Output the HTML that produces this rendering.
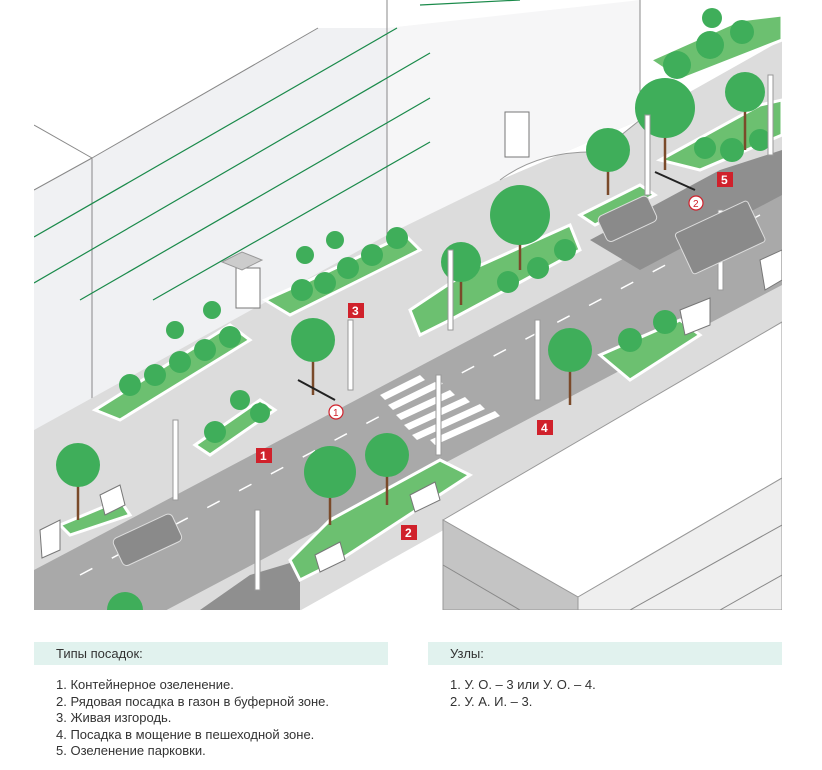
<!DOCTYPE html>
<html><head><meta charset="utf-8"><style>
body{margin:0;background:#fff;width:822px;height:770px;overflow:hidden;font-family:"Liberation Sans",sans-serif}
.bar{position:absolute;top:642px;height:23px;background:#e1f2ee;font-size:13px;color:#333;line-height:23px;padding-left:22px;box-sizing:border-box}
.list{position:absolute;top:677px;font-size:13px;color:#333;line-height:16.5px}
</style></head><body>
<svg width="822" height="770" style="position:absolute;left:0;top:0">
<defs><clipPath id="c"><rect x="34" y="0" width="748" height="610"/></clipPath></defs>
<g clip-path="url(#c)">
<rect x="34" y="0" width="748" height="610" fill="#fff"/>
<polygon points="34,190 92,158 318,28 387,28 387,235 92,400 34,430" fill="#f0f1f3"/>
<polygon points="387,28 640,0 640,120 387,235" fill="#f6f6f7"/>
<g stroke="#888" stroke-width="1" fill="none">
<line x1="34" y1="190" x2="92" y2="158"/><line x1="92" y1="158" x2="318" y2="28"/>
<line x1="34" y1="125" x2="92" y2="158"/><line x1="92" y1="158" x2="92" y2="400"/>
<line x1="387" y1="0" x2="387" y2="235"/><line x1="640" y1="0" x2="640" y2="120"/>
</g>
<g stroke="#1a8a4a" stroke-width="1.2" fill="none">
<line x1="34" y1="237" x2="397" y2="28"/><line x1="34" y1="283" x2="430" y2="53"/>
<line x1="80" y1="300" x2="430" y2="98"/><line x1="153" y1="300" x2="430" y2="142"/>
<line x1="420" y1="5" x2="520" y2="0"/>
</g>
<polygon points="34,430 387,235 500,180 640,120 782,40 782,190 34,575" fill="#dcdcdc"/>
<path d="M500,180 Q540,150 600,152 L640,120" fill="#fff" stroke="#999"/>
<rect x="236" y="268" width="24" height="40" fill="#fff" stroke="#777"/>
<polygon points="222,262 242,252 262,260 242,270" fill="#ccc" stroke="#999"/>
<rect x="505" y="112" width="24" height="45" fill="#fff" stroke="#777"/>
<polygon points="34,640 782,260 782,340 34,760" fill="#dcdcdc"/>
<polygon points="34,570 782,175 782,285 34,680" fill="#a9a9a9"/>
<polygon points="590,240 720,170 782,150 782,195 640,270" fill="#8f8f8f"/>
<polygon points="200,610 250,575 300,560 300,610" fill="#8f8f8f"/>
<g fill="#fff">
<polygon points="380,395 420,375 425,380 385,400"/><polygon points="388,405 435,382 440,387 393,410"/>
<polygon points="396,415 450,390 455,395 401,420"/><polygon points="404,425 465,397 470,402 409,430"/>
<polygon points="412,435 480,404 485,409 417,440"/><polygon points="430,440 495,411 500,416 435,445"/>
</g>
<line x1="80" y1="575" x2="760" y2="215" stroke="#fff" stroke-width="1.5" stroke-dasharray="14 22"/>
<polygon points="443,520 782,322 782,478 578,597" fill="#fff" stroke="#999"/>
<polygon points="443,520 578,597 578,610 443,610" fill="#c4c4c4" stroke="#999"/>
<polygon points="578,597 782,478 782,610 578,610" fill="#efefef" stroke="#999"/>
<g stroke="#888"><line x1="630" y1="610" x2="782" y2="525"/><line x1="720" y1="610" x2="782" y2="575"/><line x1="443" y1="565" x2="520" y2="610"/></g>
<g fill="#6cc070" stroke="#fff" stroke-width="3">
<polygon points="265,300 310,280 405,235 420,250 290,315"/>
<polygon points="95,410 230,325 250,340 120,420"/>
<polygon points="410,310 470,270 570,225 580,250 450,320 420,335"/>
<polygon points="580,215 640,185 655,195 595,225"/>
<polygon points="660,160 760,105 782,100 782,135 700,170"/>
<polygon points="290,560 330,520 440,460 470,475 340,560 300,580"/>
<polygon points="60,525 120,500 130,515 70,535"/>
<polygon points="195,445 260,400 275,410 210,455"/>
<polygon points="600,355 680,320 700,335 630,380"/>
<polygon points="650,60 740,20 782,15 782,40 680,80"/>
</g>
<g stroke="#7a4a2a" stroke-width="2.5">
<line x1="313" y1="350" x2="313" y2="395"/><line x1="387" y1="465" x2="387" y2="505"/>
<line x1="330" y1="480" x2="330" y2="525"/><line x1="461" y1="270" x2="461" y2="305"/>
<line x1="520" y1="225" x2="520" y2="270"/><line x1="608" y1="160" x2="608" y2="195"/>
<line x1="665" y1="120" x2="665" y2="170"/><line x1="570" y1="360" x2="570" y2="405"/>
<line x1="78" y1="475" x2="78" y2="520"/><line x1="745" y1="100" x2="745" y2="150"/>
</g>
<g fill="#3fae5a">
<circle cx="313" cy="340" r="22"/><circle cx="78" cy="465" r="22"/><circle cx="330" cy="472" r="26"/>
<circle cx="387" cy="455" r="22"/><circle cx="461" cy="262" r="20"/><circle cx="520" cy="215" r="30"/>
<circle cx="608" cy="150" r="22"/><circle cx="665" cy="108" r="30"/><circle cx="745" cy="92" r="20"/>
<circle cx="570" cy="350" r="22"/><circle cx="125" cy="610" r="18"/>
<circle cx="302" cy="290" r="11"/><circle cx="325" cy="283" r="11"/><circle cx="348" cy="268" r="11"/>
<circle cx="372" cy="255" r="11"/><circle cx="397" cy="238" r="11"/><circle cx="305" cy="255" r="9"/><circle cx="335" cy="240" r="9"/>
<circle cx="130" cy="385" r="11"/><circle cx="155" cy="375" r="11"/><circle cx="180" cy="362" r="11"/>
<circle cx="205" cy="350" r="11"/><circle cx="230" cy="337" r="11"/><circle cx="175" cy="330" r="9"/><circle cx="212" cy="310" r="9"/>
<circle cx="215" cy="432" r="11"/><circle cx="240" cy="400" r="10"/><circle cx="260" cy="413" r="10"/>
<circle cx="508" cy="282" r="11"/><circle cx="538" cy="268" r="11"/><circle cx="565" cy="250" r="11"/>
<circle cx="630" cy="340" r="12"/><circle cx="665" cy="322" r="12"/>
<circle cx="705" cy="148" r="11"/><circle cx="732" cy="150" r="12"/><circle cx="760" cy="140" r="11"/>
<circle cx="677" cy="65" r="14"/><circle cx="710" cy="45" r="14"/><circle cx="742" cy="32" r="12"/><circle cx="712" cy="18" r="10"/>
</g>
<g stroke="#999" fill="#fff" stroke-width="1">
<rect x="348" y="320" width="5" height="70"/><rect x="448" y="250" width="5" height="80"/>
<rect x="535" y="320" width="5" height="80"/><rect x="436" y="375" width="5" height="80"/>
<rect x="255" y="510" width="5" height="80"/><rect x="645" y="115" width="5" height="80"/>
<rect x="718" y="210" width="5" height="80"/><rect x="768" y="75" width="5" height="80"/>
<rect x="173" y="420" width="5" height="80"/>
</g>
<g fill="#fff" stroke="#777">
<polygon points="315,555 340,542 345,560 320,572"/><polygon points="410,495 435,482 440,500 415,512"/>
<polygon points="100,495 120,485 125,505 105,515"/><polygon points="680,310 710,298 710,325 685,335"/>
<polygon points="760,260 782,250 782,280 765,290"/><polygon points="40,530 60,520 60,550 42,558"/>
</g>
<rect x="115" y="525" width="65" height="30" rx="5" fill="#8a8a8a" stroke="#ddd" transform="rotate(-25 147 540)"/>
<rect x="600" y="205" width="55" height="28" rx="5" fill="#8a8a8a" stroke="#ddd" transform="rotate(-25 627 219)"/>
<rect x="680" y="215" width="80" height="45" rx="3" fill="#8a8a8a" stroke="#ddd" transform="rotate(-25 720 237)"/>
<g font-family="Liberation Sans" font-weight="bold" font-size="12" fill="#fff">
<rect x="256" y="448" width="16" height="15" fill="#d0212b"/><text x="260" y="460">1</text>
<rect x="401" y="525" width="16" height="15" fill="#d0212b"/><text x="405" y="537">2</text>
<rect x="348" y="303" width="16" height="15" fill="#d0212b"/><text x="352" y="315">3</text>
<rect x="537" y="420" width="16" height="15" fill="#d0212b"/><text x="541" y="432">4</text>
<rect x="717" y="172" width="16" height="15" fill="#d0212b"/><text x="721" y="184">5</text>
</g>
<g fill="#fff" stroke="#d0212b" stroke-width="1.2">
<circle cx="336" cy="412" r="7"/><circle cx="696" cy="203" r="7"/>
</g>
<text x="333" y="416" font-size="10" fill="#d0212b" font-family="Liberation Sans">1</text>
<text x="693" y="207" font-size="10" fill="#d0212b" font-family="Liberation Sans">2</text>
<line x1="298" y1="380" x2="335" y2="400" stroke="#222" stroke-width="2"/>
<line x1="655" y1="172" x2="695" y2="190" stroke="#222" stroke-width="2"/>
</g>
</svg>
<div class="bar" style="left:34px;width:354px">Типы посадок:</div>
<div class="bar" style="left:428px;width:354px">Узлы:</div>
<div class="list" style="left:56px">1. Контейнерное озеленение.<br>2. Рядовая посадка в газон в буферной зоне.<br>3. Живая изгородь.<br>4. Посадка в мощение в пешеходной зоне.<br>5. Озеленение парковки.</div>
<div class="list" style="left:450px">1. У. О. – 3 или У. О. – 4.<br>2. У. А. И. – 3.</div>
</body></html>
